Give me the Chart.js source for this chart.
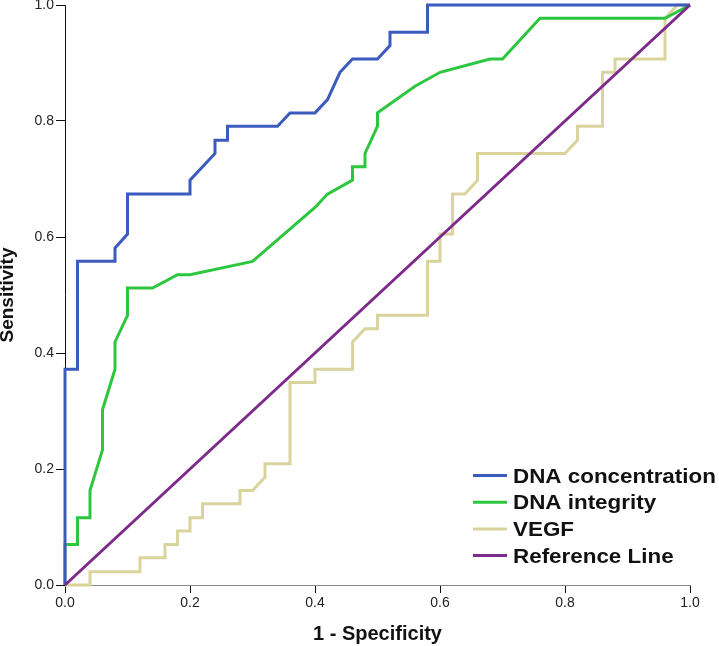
<!DOCTYPE html>
<html>
<head>
<meta charset="utf-8">
<script src="https://cdn.jsdelivr.net/npm/chart.js@4"></script>
<style>
  body { margin: 0; background: #fff; }
  canvas { display: block; }
</style>
</head>
<body>
<canvas id="rocChart" width="719" height="646"></canvas>
<script>
// ROC curves
const seriesNames = ['DNA concentration', 'DNA integrity', 'VEGF', 'Reference Line'];
const tickLabels = ['0.0', '0.2', '0.4', '0.6', '0.8', '1.0'];

const concX = [0, 0, 0.02, 0.02, 0.08, 0.08, 0.10, 0.10, 0.20, 0.20, 0.24, 0.24, 0.26, 0.26, 0.34, 0.36, 0.40, 0.42, 0.44, 0.46, 0.50, 0.52, 0.52, 0.58, 0.58, 1.0];
const concY = [0, 0.372, 0.372, 0.558, 0.558, 0.581, 0.605, 0.674, 0.674, 0.698, 0.744, 0.767, 0.767, 0.791, 0.791, 0.814, 0.814, 0.837, 0.884, 0.907, 0.907, 0.930, 0.953, 0.953, 1.0, 1.0];

const integX = [0, 0, 0.02, 0.02, 0.04, 0.04, 0.06, 0.06, 0.08, 0.08, 0.10, 0.10, 0.14, 0.18, 0.20, 0.30, 0.40, 0.42, 0.46, 0.46, 0.48, 0.48, 0.50, 0.50, 0.56, 0.60, 0.68, 0.70, 0.76, 0.96, 1.0];
const integY = [0, 0.070, 0.070, 0.116, 0.116, 0.163, 0.233, 0.302, 0.372, 0.419, 0.465, 0.512, 0.512, 0.535, 0.535, 0.558, 0.651, 0.674, 0.698, 0.721, 0.721, 0.744, 0.791, 0.814, 0.860, 0.884, 0.907, 0.907, 0.977, 0.977, 1.0];

const vegfX = [0, 0.04, 0.04, 0.12, 0.12, 0.16, 0.16, 0.18, 0.18, 0.20, 0.20, 0.22, 0.22, 0.28, 0.28, 0.30, 0.32, 0.32, 0.36, 0.36, 0.40, 0.40, 0.46, 0.46, 0.48, 0.50, 0.50, 0.58, 0.58, 0.60, 0.60, 0.62, 0.62, 0.64, 0.66, 0.66, 0.80, 0.82, 0.82, 0.86, 0.86, 0.88, 0.88, 0.96, 0.96, 0.98, 1.0];
const vegfY = [0, 0, 0.023, 0.023, 0.047, 0.047, 0.070, 0.070, 0.093, 0.093, 0.116, 0.116, 0.140, 0.140, 0.163, 0.163, 0.186, 0.209, 0.209, 0.349, 0.349, 0.372, 0.372, 0.419, 0.442, 0.442, 0.465, 0.465, 0.558, 0.558, 0.605, 0.605, 0.674, 0.674, 0.698, 0.744, 0.744, 0.767, 0.791, 0.791, 0.884, 0.884, 0.907, 0.907, 0.977, 1.0, 1.0];

const refX = [0, 1];
const refY = [0, 1];

const colors = ['#3c5bbf', '#2dc73f', '#d9d49b', '#7d2b8b'];

function toPoints(xs, ys) {
  return xs.map((x, i) => ({ x: x, y: ys[i] }));
}

// legend drawn inside the plot, bottom right, like the SPSS output
const roc_legend = {
  id: 'rocLegend',
  afterDatasetsDraw(chart, args, opts) {
    const ctx = chart.ctx;
    ctx.save();
    chart.data.datasets.forEach((ds, i) => {
      const y = opts.top + i * opts.rowGap;
      ctx.strokeStyle = ds.borderColor;
      ctx.lineWidth = 3;
      ctx.beginPath();
      ctx.moveTo(opts.left, y);
      ctx.lineTo(opts.left + opts.lineLen, y);
      ctx.stroke();
      ctx.save();
      ctx.translate(opts.left + opts.lineLen + 6, y + 1.5);
      ctx.scale(1.12, 1);
      ctx.fillStyle = '#111';
      ctx.font = 'bold 20px "Liberation Sans", Arial, sans-serif';
      ctx.textBaseline = 'middle';
      ctx.fillText(ds.label, 0, 0);
      ctx.restore();
    });
    ctx.restore();
  }
};

const noPad = (s) => { s.paddingTop = 0; s.paddingBottom = 0; s.paddingLeft = 0; s.paddingRight = 0; };

const ctx = document.getElementById('rocChart').getContext('2d');
const rocChart = new Chart(ctx, {
  type: 'scatter',
  data: {
    datasets: [
      { label: seriesNames[0], data: toPoints(concX, concY), borderColor: colors[0], order: 1 },
      { label: seriesNames[1], data: toPoints(integX, integY), borderColor: colors[1], order: 2 },
      { label: seriesNames[2], data: toPoints(vegfX, vegfY), borderColor: colors[2], order: 3 },
      { label: seriesNames[3], data: toPoints(refX, refY), borderColor: colors[3], order: 0 }
    ].map(ds => Object.assign(ds, {
      showLine: true, borderWidth: 3, pointRadius: 0, tension: 0, clip: false,
      backgroundColor: ds.borderColor, fill: false
    }))
  },
  options: {
    responsive: false,
    animation: false,
    layout: { padding: { top: 5, right: 29, left: 0, bottom: 0 } },
    plugins: {
      legend: { display: false },
      tooltip: { enabled: false },
      rocLegend: { left: 473, top: 475.5, rowGap: 26.7, lineLen: 34 }
    },
    scales: {
      x: {
        type: 'linear', min: 0, max: 1,
        afterFit: (s) => { s.height = 61; noPad(s); },
        border: { color: '#888', width: 1 },
        grid: { drawOnChartArea: false, drawTicks: true, tickLength: 8, tickColor: '#111' },
        ticks: {
          stepSize: 0.2, padding: 2, color: '#222', maxRotation: 0,
          font: { family: '"Liberation Sans", Arial, sans-serif', size: 14 },
          callback: (v) => tickLabels[Math.round(v * 5)]
        },
        title: {
          display: true, text: '1 - Specificity', color: '#111',
          font: { family: '"Liberation Sans", Arial, sans-serif', size: 20, weight: 'bold', lineHeight: 1.2 },
          padding: { top: 0, bottom: 0 }
        }
      },
      y: {
        type: 'linear', min: 0, max: 1,
        afterFit: (s) => { s.width = 65; noPad(s); },
        border: { color: '#111', width: 1 },
        grid: { drawOnChartArea: false, drawTicks: true, tickLength: 9, tickColor: '#111' },
        ticks: {
          stepSize: 0.2, padding: 2, color: '#222',
          font: { family: '"Liberation Sans", Arial, sans-serif', size: 14 },
          callback: (v) => tickLabels[Math.round(v * 5)]
        },
        title: {
          display: true, text: 'Sensitivity', color: '#111',
          font: { family: '"Liberation Sans", Arial, sans-serif', size: 19, weight: 'bold', lineHeight: 0.8 },
          padding: { top: 0, bottom: 0 }
        }
      }
    }
  },
  plugins: [roc_legend]
});
</script>
</body>
</html>
